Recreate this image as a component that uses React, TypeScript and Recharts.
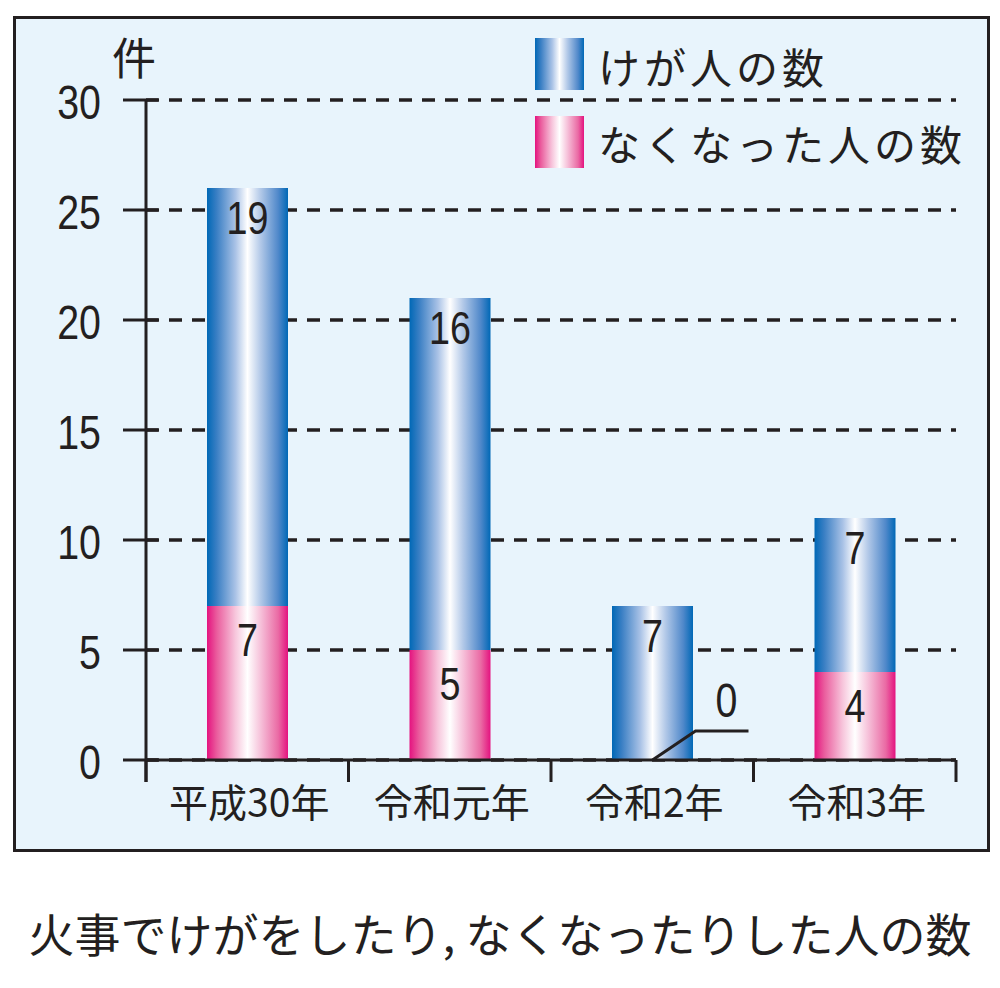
import React from 'react';
import { BarChart, Bar, XAxis, YAxis, CartesianGrid, LabelList } from 'recharts';

// values
const years = ['平成30年', '令和元年', '令和2年', '令和3年'];
const injured = [19, 16, 7, 7];
const deaths = [7, 5, 0, 4];
const yTicks = [0, 5, 10, 15, 20, 25, 30];

const INK = '#231f20';
const JP = '"Noto Sans CJK JP", "Noto Sans", sans-serif';
const NUM = '"Liberation Sans", Arial, sans-serif';
const Y_TICK_MARGIN = 45;

const data = years.map((year, i) => ({ year, injured: injured[i], deaths: deaths[i] }));

const YTick = (props: any) => {
  const { x, y, payload } = props;
  const axisX = x + Y_TICK_MARGIN;
  return (
    <g>
      <line x1={axisX - 23} x2={axisX + 12} y1={y} y2={y} stroke={INK} strokeWidth={3} />
      <text
        transform={`translate(${x},${y + 2}) scale(0.82,1)`}
        textAnchor="end"
        dominantBaseline="central"
        fontFamily={NUM}
        fontSize={48}
        fill={INK}
      >
        {payload.value}
      </text>
    </g>
  );
};

const XTick = (props: any) => {
  const { x, y, payload, index, width } = props;
  const half = (width || 810) / years.length / 2;
  return (
    <g>
      <line x1={x + half} x2={x + half} y1={y} y2={y + 22} stroke={INK} strokeWidth={3} />
      {index === 0 && <line x1={x - half} x2={x - half} y1={y} y2={y + 22} stroke={INK} strokeWidth={3} />}
      <text x={x + 2} y={y + 40} textAnchor="middle" dominantBaseline="central" fontFamily={JP} fontSize={39} fill={INK}>
        {payload.value}
      </text>
    </g>
  );
};

const valueText = (cx: number, cy: number, value: any, size: number) => (
  <text
    transform={`translate(${cx},${cy}) scale(0.82,1)`}
    textAnchor="middle"
    dominantBaseline="central"
    fontFamily={NUM}
    fontSize={size}
    fill={INK}
  >
    {value}
  </text>
);

// label near the top of each segment
const DeathsValue = (props: any) => {
  const { x, y, width, value } = props;
  if (Number(value) === 0) return null;
  return valueText(Number(x) + Number(width) / 2, Number(y) + 34, value, 46);
};

// injured label; also draws the leader + "0" when the deaths segment is empty
const InjuredValue = (props: any) => {
  const { x, y, width, height, value, index } = props;
  const cx = Number(x) + Number(width) / 2;
  const top = Number(y);
  const base = top + Number(height);
  const d = deaths[index];
  return (
    <g>
      {valueText(cx, top + 30, value, 46)}
      {d === 0 && (
        <g>
          <polyline
            points={`${cx},${base} ${cx + 43},${base - 29} ${cx + 96},${base - 29}`}
            fill="none"
            stroke={INK}
            strokeWidth={3}
          />
          {valueText(cx + 74, base - 60, d, 48)}
        </g>
      )}
    </g>
  );
};

const swatch = (grad: string, top: number) => (
  <div style={{ position: 'absolute', left: 535, top, width: 49, height: 52, background: grad }} />
);

const BLUE_CSS =
  'linear-gradient(to right, #0068b6 0%, #3a7fc4 12%, #a9c2e6 35%, #ffffff 50%, #b3c9e8 66%, #4f88ca 88%, #0068b6 100%)';
const PINK_CSS =
  'linear-gradient(to right, #e4127f 0%, #ea5c9d 12%, #f7c6dc 35%, #ffffff 50%, #f6c2da 66%, #ea6aa4 88%, #e4127f 100%)';

export default function App() {
  return (
    <div style={{ position: 'absolute', left: 0, top: 0, width: 1000, height: 988, background: '#ffffff', overflow: 'hidden' }}>
      {/* framed panel */}
      <div
        style={{
          position: 'absolute',
          left: 13,
          top: 16,
          width: 971,
          height: 830,
          border: `3px solid ${INK}`,
          background: '#e8f4fc',
        }}
      />
      <BarChart
        width={1000}
        height={988}
        data={data}
        margin={{ top: 100, right: 44, bottom: 168, left: 46 }}
        style={{ position: 'absolute', left: 0, top: 0 }}
      >
        <defs>
          <linearGradient id="blueGrad" x1="0" y1="0" x2="1" y2="0">
            <stop offset="0%" stopColor="#0068b6" />
            <stop offset="12%" stopColor="#3a7fc4" />
            <stop offset="35%" stopColor="#a9c2e6" />
            <stop offset="50%" stopColor="#ffffff" />
            <stop offset="66%" stopColor="#b3c9e8" />
            <stop offset="88%" stopColor="#4f88ca" />
            <stop offset="100%" stopColor="#0068b6" />
          </linearGradient>
          <linearGradient id="pinkGrad" x1="0" y1="0" x2="1" y2="0">
            <stop offset="0%" stopColor="#e4127f" />
            <stop offset="12%" stopColor="#ea5c9d" />
            <stop offset="35%" stopColor="#f7c6dc" />
            <stop offset="50%" stopColor="#ffffff" />
            <stop offset="66%" stopColor="#f6c2da" />
            <stop offset="88%" stopColor="#ea6aa4" />
            <stop offset="100%" stopColor="#e4127f" />
          </linearGradient>
        </defs>
        <CartesianGrid vertical={false} stroke={INK} strokeWidth={3.5} strokeDasharray="13 10" />
        <XAxis
          dataKey="year"
          height={60}
          axisLine={{ stroke: INK, strokeWidth: 3 }}
          tickLine={false}
          tickSize={0}
          tickMargin={0}
          tick={<XTick />}
          interval={0}
        />
        <YAxis
          width={100}
          domain={[0, 30]}
          ticks={yTicks}
          axisLine={false}
          tickLine={false}
          tickSize={0}
          tickMargin={Y_TICK_MARGIN}
          tick={<YTick />}
          interval={0}
        />
        <Bar dataKey="deaths" stackId="a" fill="url(#pinkGrad)" barSize={81} isAnimationActive={false}>
          <LabelList dataKey="deaths" content={<DeathsValue />} />
        </Bar>
        <Bar dataKey="injured" stackId="a" fill="url(#blueGrad)" barSize={81} isAnimationActive={false}>
          <LabelList dataKey="injured" content={<InjuredValue />} />
        </Bar>
      </BarChart>
      {/* y axis line, drawn long so it reaches below the baseline */}
      <svg width={1000} height={988} style={{ position: 'absolute', left: 0, top: 0, pointerEvents: 'none' }}>
        <line x1={146} x2={146} y1={100} y2={782} stroke={INK} strokeWidth={3} />
      </svg>
      {/* unit */}
      <div style={{ position: 'absolute', left: 112, top: 30, fontFamily: JP, fontSize: 44, color: INK, lineHeight: '52px' }}>件</div>
      {/* legend */}
      {swatch(BLUE_CSS, 38)}
      {swatch(PINK_CSS, 116)}
      <div style={{ position: 'absolute', left: 598, top: 40, fontFamily: JP, fontSize: 42, letterSpacing: 4, color: INK, lineHeight: '52px', whiteSpace: 'nowrap' }}>
        けが人の数
      </div>
      <div style={{ position: 'absolute', left: 598, top: 117, fontFamily: JP, fontSize: 42, letterSpacing: 4, color: INK, lineHeight: '52px', whiteSpace: 'nowrap' }}>
        なくなった人の数
      </div>
      {/* caption */}
      <div
        style={{
          position: 'absolute',
          left: 0,
          width: 1000,
          top: 902,
          textAlign: 'center',
          fontFamily: JP,
          fontSize: 46,
          color: INK,
          lineHeight: '60px',
          whiteSpace: 'nowrap',
        }}
      >
        火事でけがをしたり, なくなったりした人の数
      </div>
    </div>
  );
}
